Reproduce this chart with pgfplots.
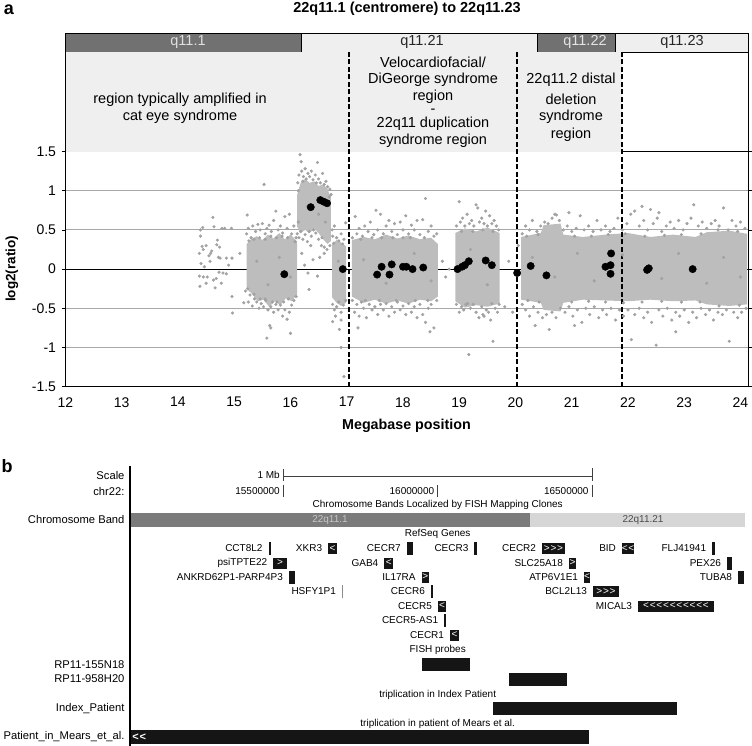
\documentclass[border=0pt]{standalone}
\usepackage{pgfplots}
\pgfplotsset{compat=1.18}
\usepackage{fontspec}
\setmainfont{Liberation Sans}
\definecolor{dotgray}{HTML}{A2A2A2}
\definecolor{coregray}{HTML}{BDBDBD}
\definecolor{banddark}{HTML}{717171}
\definecolor{bandlight}{HTML}{EFEFEF}
\definecolor{regfill}{HTML}{EFEFEF}
\definecolor{gridgray}{HTML}{A8A8A8}
\definecolor{gblack}{HTML}{151515}
\definecolor{bdark}{HTML}{7B7B7B}
\definecolor{blight}{HTML}{D6D6D6}
\newcommand{\fsz}[1]{\fontsize{#1}{#1}\selectfont}
\newcommand{\Lt}{<\kern0.8pt}
\newcommand{\Gt}{>\kern0.8pt}
% gene box: x1 x2 ytop ybot
\newcommand{\gb}[4]{\addplot[fill=gblack,draw=none] coordinates {(#1,#3)(#2,#3)(#2,#4)(#1,#4)};}
\newcommand{\rect}[5]{\addplot[fill=#5,draw=black,line width=1pt] coordinates {(#1,#3)(#2,#3)(#2,#4)(#1,#4)(#1,#3)};}
\begin{document}
\begin{tikzpicture}
\useasboundingbox (0pt,0pt) rectangle (752pt,-746pt);
% ---------------- panel a ----------------
\begin{axis}[
  at={(65.5pt,-386.7pt)}, anchor=south west,
  scale only axis, width=683.4pt, height=235.2pt,
  xmin=12, xmax=24.15, ymin=-1.5, ymax=1.5,
  xtick={12,13,...,24},
  ytick={-1.5,-1,-0.5,0,0.5,1,1.5},
  yticklabels={-1.5,-1,-0.5,0,0.5,1,1.5},
  clip=false,
  axis line style={black,line width=1.1pt},
  ymajorgrids, major grid style={gridgray,line width=1pt},
  xtick style={draw=none},
  ytick style={black,line width=0.8pt},
  tick align=outside, major tick length=4pt,
  ticklabel style={font=\fontsize{14}{16}\selectfont},
  /pgf/number format/assume math mode=true,
  xticklabel style={yshift=-3pt},
  yticklabel style={xshift=-2pt},
]
% band bar
\rect{12}{16.19}{3.008}{2.765}{banddark}
\rect{16.19}{20.40}{3.008}{2.765}{bandlight}
\rect{20.40}{21.77}{3.008}{2.765}{banddark}
\rect{21.77}{24.15}{3.008}{2.765}{bandlight}
% region boxes
\addplot[fill=regfill,draw=none] coordinates {(12,2.765)(21.90,2.765)(21.90,1.5)(12,1.5)};
\addplot[black,line width=1.1pt] coordinates {(12,1.5)(12,2.765)};
\addplot[black,line width=1.1pt] coordinates {(24.15,1.5)(24.15,2.765)};
% zero line
\addplot[black,line width=0.8pt] coordinates {(12,0)(24.15,0)};
% dense cores of the probe clouds
\addplot[fill=coregray,draw=none] coordinates {(15.22,0.32)(15.30,0.38)(15.40,0.42)(15.50,0.37)(15.60,0.44)(15.70,0.39)(15.80,0.46)(15.90,0.38)(16.00,0.44)(16.12,0.35)(16.12,-0.32)(16.02,-0.41)(15.92,-0.37)(15.82,-0.46)(15.72,-0.41)(15.62,-0.48)(15.52,-0.39)(15.42,-0.41)(15.32,-0.32)(15.22,-0.25)};
\addplot[fill=coregray,draw=none] coordinates {(16.12,0.95)(16.18,1.10)(16.26,1.15)(16.34,1.10)(16.42,1.12)(16.50,1.06)(16.58,1.08)(16.66,1.02)(16.72,0.90)(16.72,0.36)(16.66,0.32)(16.58,0.38)(16.50,0.46)(16.42,0.52)(16.34,0.46)(16.26,0.50)(16.18,0.46)(16.12,0.54)};
\addplot[fill=coregray,draw=none] coordinates {(16.74,0.32)(16.82,0.37)(16.90,0.34)(16.99,0.29)(16.99,-0.43)(16.90,-0.47)(16.82,-0.43)(16.74,-0.36)};
\addplot[fill=coregray,draw=none] coordinates {(17.09,0.37)(17.3,0.41)(17.5,0.38)(17.7,0.44)(17.9,0.39)(18.1,0.43)(18.3,0.38)(18.5,0.40)(18.62,0.32)(18.62,-0.35)(18.5,-0.41)(18.3,-0.39)(18.1,-0.44)(17.9,-0.40)(17.7,-0.44)(17.5,-0.39)(17.3,-0.43)(17.09,-0.35)};
\addplot[fill=coregray,draw=none] coordinates {(18.93,0.46)(19.1,0.52)(19.3,0.48)(19.5,0.53)(19.72,0.46)(19.72,-0.44)(19.5,-0.48)(19.3,-0.46)(19.1,-0.49)(18.93,-0.41)};
\addplot[fill=coregray,draw=none] coordinates {(20.10,0.41)(20.45,0.46)(20.50,0.56)(20.80,0.58)(20.85,0.44)(21.2,0.41)(21.6,0.44)(22.0,0.46)(22.4,0.41)(22.8,0.44)(23.2,0.41)(23.4,0.47)(23.8,0.49)(24.12,0.45)(24.12,-0.45)(23.8,-0.47)(23.4,-0.45)(23.2,-0.40)(22.8,-0.41)(22.4,-0.39)(22.0,-0.41)(21.6,-0.40)(21.2,-0.39)(20.85,-0.43)(20.80,-0.54)(20.50,-0.52)(20.45,-0.43)(20.10,-0.39)};
% individual probes (gray)
\addplot[only marks,mark=*,mark size=1.4pt,color=dotgray] coordinates {
(14.40,0.50)(14.44,0.53)(14.40,0.42)(14.43,0.29)(14.38,0.20)(14.41,0.07)(14.38,-0.09)(14.39,-0.22)(14.45,-0.10)(14.47,0.03)(14.52,-0.10)(14.62,0.66)(14.64,0.54)(14.58,0.20)(14.63,-0.14)(14.66,-0.24)(14.70,0.37)(14.72,0.15)(14.75,0.14)(14.78,0.52)(14.80,-0.05)(14.77,-0.18)(14.83,0.52)(14.86,0.14)(14.86,-0.06)(14.95,0.52)(14.96,0.14)(14.96,-0.35)(14.97,-0.56)(14.60,0.23)(14.55,0.17)(14.57,0.10)(14.50,0.30)(14.68,-0.12)(14.73,-0.04)(14.74,0.28)(14.69,0.31)(14.45,0.25)(14.50,-0.18)(14.90,0.05)(15.17,-0.43)(15.10,0.20)
(15.22,0.45)(15.25,0.52)(15.30,0.40)(15.33,0.55)(15.38,0.48)(15.42,0.57)(15.46,0.50)(15.50,0.58)(15.55,0.45)(15.58,0.52)(15.62,0.56)(15.66,0.48)(15.70,0.62)(15.74,0.74)(15.78,0.50)(15.82,0.55)(15.86,0.46)(15.90,0.67)(15.94,0.52)(15.98,0.70)(16.02,0.45)(16.06,0.55)(16.10,0.40)(15.23,0.69)(15.53,1.08)(15.45,0.40)(15.85,0.42)(15.65,0.42)(15.35,0.38)(15.26,0.36)(15.55,0.38)(15.75,0.40)(15.95,0.40)(16.08,0.35)
(15.20,-0.28)(15.25,-0.42)(15.28,-0.33)(15.32,-0.47)(15.36,-0.38)(15.40,-0.42)(15.44,-0.50)(15.48,-0.44)(15.52,-0.48)(15.56,-0.40)(15.60,-0.52)(15.65,-0.48)(15.70,-0.55)(15.74,-0.45)(15.78,-0.52)(15.82,-0.46)(15.86,-0.60)(15.90,-0.52)(15.94,-0.64)(15.98,-0.55)(16.02,-0.46)(16.06,-0.40)(16.10,-0.35)(15.58,-0.88)(15.65,-0.75)(15.63,-0.72)(16.00,-0.82)(15.88,-0.42)(15.76,-0.42)(15.46,-0.38)(15.35,-0.32)(15.55,-0.38)(15.68,-0.42)(15.96,-0.38)(15.24,-0.25)
(16.13,1.10)(16.15,1.20)(16.17,1.46)(16.19,1.37)(16.20,1.25)(16.23,1.18)(16.26,1.28)(16.28,1.15)(16.31,1.22)(16.34,1.18)(16.37,1.25)(16.40,1.14)(16.44,1.20)(16.48,1.36)(16.50,1.15)(16.53,1.10)(16.57,1.22)(16.60,1.08)(16.63,1.12)(16.66,1.05)(16.70,1.02)(16.72,0.95)(16.14,1.00)(16.22,1.12)(16.46,1.10)(16.69,0.92)
(16.12,0.45)(16.15,0.40)(16.18,0.48)(16.22,0.38)(16.26,0.44)(16.30,0.35)(16.33,0.48)(16.37,0.42)(16.41,0.50)(16.45,0.46)(16.50,0.38)(16.55,0.30)(16.60,0.28)(16.65,0.25)(16.70,0.30)(16.33,-0.26)(16.48,-0.09)(16.31,-0.05)(16.20,0.20)(16.40,0.12)(16.25,0.05)(16.52,0.15)(16.14,0.60)(16.60,0.20)(16.36,0.30)(16.56,0.40)(16.74,0.50)
(16.75,0.42)(16.78,0.55)(16.82,0.40)(16.86,0.36)(16.90,0.45)(16.95,0.38)(16.98,0.59)(16.75,-0.45)(16.78,-0.52)(16.82,-0.48)(16.86,-0.42)(16.90,-0.55)(16.94,-0.46)(16.98,-0.40)(16.75,-0.67)(16.90,-0.65)(16.87,-0.77)(16.90,-1.00)(16.95,-1.37)(16.80,-0.60)(16.77,0.33)(16.93,0.32)
(17.10,0.40)(17.15,0.67)(17.18,0.45)(17.22,0.52)(17.28,0.42)(17.32,0.55)(17.38,0.48)(17.42,0.60)(17.48,0.44)(17.52,0.75)(17.55,0.50)(17.60,0.70)(17.65,0.45)(17.70,0.55)(17.75,0.62)(17.80,0.48)(17.85,0.58)(17.90,0.44)(17.95,0.60)(18.00,0.50)(18.05,0.68)(18.10,0.45)(18.15,0.56)(18.20,0.50)(18.25,0.62)(18.30,0.44)(18.35,0.63)(18.40,0.90)(18.45,0.48)(18.50,0.55)(18.55,0.42)(18.60,0.45)(17.45,0.40)(18.13,0.40)(17.25,0.38)(17.62,0.40)(17.82,0.40)(18.00,0.40)(18.38,0.40)
(17.10,-0.40)(17.14,-0.55)(17.18,-0.45)(17.22,-0.60)(17.26,-0.42)(17.30,-0.50)(17.35,-0.62)(17.40,-0.45)(17.45,-0.52)(17.50,-0.48)(17.55,-0.58)(17.60,-0.45)(17.65,-0.52)(17.70,-0.44)(17.75,-0.60)(17.80,-0.48)(17.85,-0.55)(17.90,-0.42)(17.95,-0.52)(18.00,-0.47)(18.05,-0.58)(18.10,-0.44)(18.15,-0.55)(18.20,-0.48)(18.25,-0.62)(18.30,-0.45)(18.35,-0.58)(18.40,-0.68)(18.45,-0.50)(18.50,-0.45)(18.55,-0.75)(18.60,-0.40)(17.20,-0.75)(18.48,-0.80)(17.33,-0.40)(17.58,-0.40)(17.88,-0.40)(18.22,-0.40)(18.44,-0.40)
(18.76,-0.10)(18.70,0.10)(18.82,0.00)
(18.95,0.55)(19.00,0.86)(19.02,0.60)(19.06,0.65)(19.10,0.55)(19.14,0.70)(19.18,0.58)(19.22,0.62)(19.26,0.55)(19.30,0.82)(19.33,0.78)(19.36,0.60)(19.40,0.65)(19.44,0.58)(19.47,0.74)(19.50,0.55)(19.54,0.68)(19.58,0.58)(19.62,0.62)(19.66,0.55)(19.70,0.50)(19.04,0.48)(19.24,0.48)(19.42,0.50)(19.60,0.48)
(18.95,-0.45)(19.00,-0.55)(19.04,-0.48)(19.08,-0.52)(19.12,-0.45)(19.17,-1.09)(19.20,-0.50)(19.25,-0.45)(19.30,-0.55)(19.35,-0.62)(19.40,-0.48)(19.44,-0.60)(19.48,-0.52)(19.52,-0.55)(19.56,-0.65)(19.60,-0.92)(19.64,-0.50)(19.68,-0.55)(19.71,-0.45)(19.42,-0.58)(19.15,-0.44)(19.58,-0.44)
(19.81,-0.48)(19.88,0.10)(19.95,-0.55)(20.05,0.30)
(20.12,0.45)(20.18,0.55)(20.25,0.50)(20.30,0.62)(20.38,0.48)(20.45,0.55)(20.52,0.60)(20.58,0.58)(20.65,0.65)(20.70,0.70)(20.73,0.69)(20.78,0.62)(20.85,0.50)(20.92,0.55)(21.00,0.48)(21.08,0.52)(21.15,0.68)(21.22,0.50)(21.30,0.55)(21.38,0.48)(21.45,0.62)(21.52,0.50)(21.60,0.55)(21.68,0.48)(21.75,0.52)(21.82,0.65)(21.90,0.50)(21.98,0.58)(22.05,0.70)(22.12,0.74)(22.20,0.55)(22.28,0.62)(22.35,0.50)(22.40,0.76)(22.45,0.58)(22.52,0.65)(22.60,0.48)(22.68,0.55)(22.75,0.60)(22.82,0.52)(22.90,0.62)(22.98,0.50)(23.05,0.58)(23.12,0.65)(23.17,0.82)(23.25,0.55)(23.32,0.60)(23.40,0.52)(23.48,0.58)(23.55,0.62)(23.62,0.55)(23.70,0.78)(23.78,0.50)(23.85,0.62)(23.92,0.55)(24.00,0.60)(24.08,0.52)(22.25,0.80)(22.55,0.72)(20.95,0.72)
(20.20,0.42)(20.40,0.44)(21.05,0.42)(21.35,0.42)(21.65,0.44)(21.95,0.45)(22.30,0.42)(22.65,0.43)(22.95,0.44)(23.30,0.45)(23.60,0.50)(23.95,0.48)
(20.12,-0.45)(20.18,-0.52)(20.25,-0.60)(20.32,-0.48)(20.40,-0.55)(20.48,-0.62)(20.55,-0.58)(20.60,-0.77)(20.65,-0.55)(20.72,-0.62)(20.80,-0.50)(20.88,-0.55)(20.95,-0.48)(21.02,-0.60)(21.10,-0.52)(21.18,-0.68)(21.25,-0.50)(21.32,-0.58)(21.40,-0.48)(21.48,-0.62)(21.55,-0.52)(21.62,-0.58)(21.70,-0.50)(21.78,-0.65)(21.85,-0.52)(21.92,-0.60)(22.00,-0.52)(22.06,-0.90)(22.12,-0.58)(22.20,-0.50)(22.28,-0.62)(22.35,-0.55)(22.42,-0.68)(22.50,-0.97)(22.55,-0.52)(22.62,-0.60)(22.70,-0.50)(22.78,-0.65)(22.85,-0.55)(22.92,-0.60)(23.00,-0.52)(23.08,-0.68)(23.15,-0.55)(23.22,-0.62)(23.30,-0.50)(23.38,-0.58)(23.45,-0.52)(23.52,-0.65)(23.60,-0.55)(23.68,-0.58)(23.75,-0.52)(23.80,-0.92)(23.88,-0.55)(23.95,-0.62)(24.02,-0.55)(24.10,-0.50)(20.35,-0.72)(21.05,-0.72)(22.85,-0.80)
(20.22,-0.40)(20.42,-0.42)(21.00,-0.42)(21.30,-0.41)(21.60,-0.42)(21.92,-0.43)(22.25,-0.42)(22.60,-0.41)(22.95,-0.42)(23.28,-0.42)(23.62,-0.47)(23.98,-0.46)
(15.40,0.10)(15.60,-0.20)(15.80,0.15)(16.00,-0.10)(16.30,0.80)(16.50,0.70)(16.62,0.60)(16.85,0.10)(17.30,0.12)(17.70,-0.18)(18.20,0.20)(18.50,-0.15)(19.20,0.25)(19.50,-0.20)(20.30,0.15)(20.70,-0.10)(21.10,0.20)(21.40,-0.15)(21.90,0.18)(22.60,-0.12)(22.90,0.20)(23.40,-0.18)(23.70,0.15)(24.00,-0.10)
};
% region boundaries (dashed)
\addplot[black,line width=2pt,dash pattern=on 5pt off 2.5pt] coordinates {(17.04,-1.5)(17.04,2.765)};
\addplot[black,line width=2pt,dash pattern=on 5pt off 2.5pt] coordinates {(20.02,-1.5)(20.02,2.765)};
\addplot[black,line width=2pt,dash pattern=on 5pt off 2.5pt] coordinates {(21.90,-1.5)(21.90,2.765)};
% FISH-validated / segment points (black)
\addplot[only marks,mark=*,mark size=3.7pt,color=black] coordinates {
(15.89,-0.065)(16.36,0.79)(16.53,0.88)(16.65,0.84)(16.59,0.86)(16.93,0.0)
(17.54,-0.07)(17.62,0.03)(17.76,-0.07)(17.80,0.06)(18.00,0.03)(18.06,0.03)(18.17,0.0)(18.36,0.02)
(18.97,0.0)(19.05,0.03)(19.10,0.05)(19.17,0.10)(19.47,0.11)(19.58,0.05)
(20.03,-0.05)(20.27,0.04)(20.55,-0.08)
(21.60,0.03)(21.70,0.20)(21.69,0.05)(21.69,-0.06)(22.34,-0.01)(22.37,0.01)(23.15,0.0)
};
\end{axis}
% text of panel a
\node[font=\bfseries\fsz{18},inner sep=0pt] at (9pt,-10pt) {a};
\node[font=\bfseries\fontsize{14.5}{17}\selectfont] at (407pt,-9pt) {22q11.1 (centromere) to 22q11.23};
\begin{scope}[every node/.style={font=\fontsize{14.5}{17}\selectfont,inner sep=0.5pt}]
\node[text=black!12] at (188pt,-42pt) {q11.1};
\node[text=black!85] at (422pt,-42pt) {q11.21};
\node[text=black!10] at (585pt,-42pt) {q11.22};
\node[text=black!85] at (682pt,-42pt) {q11.23};
\node at (180pt,-100pt) {region typically amplified in};
\node at (180pt,-117pt) {cat eye syndrome};
\node at (433pt,-62pt) {Velocardiofacial/};
\node at (433pt,-80pt) {DiGeorge syndrome};
\node at (433pt,-96.5pt) {region};
\node[inner sep=0pt] at (433pt,-111.5pt) {-};
\node at (433pt,-124pt) {22q11 duplication};
\node at (433pt,-141pt) {syndrome region};
\node at (571pt,-80pt) {22q11.2 distal};
\node at (571pt,-99pt) {deletion};
\node at (571pt,-117pt) {syndrome};
\node at (571pt,-135pt) {region};
\end{scope}
\node[font=\bfseries\fontsize{14.3}{17}\selectfont] at (406.5pt,-426pt) {Megabase position};
\node[font=\bfseries\fontsize{13.5}{16}\selectfont,rotate=90] at (12pt,-269pt) {log2(ratio)};
% ---------------- panel b ----------------
\begin{axis}[
  at={(129pt,-746pt)}, anchor=south west,
  scale only axis, width=617.4pt, height=284pt,
  xmin=15, xmax=17, ymin=-746, ymax=-462,
  hide axis, clip=false,
  every node/.style={font=\fontsize{11.2}{13}\selectfont},
]
% left rule
\addplot[black,line width=1.8pt] coordinates {(15.0034,-466)(15.0034,-746)};
% scale bar and position ticks
\addplot[black!75,line width=0.7pt] coordinates {(15.5,-476)(16.5,-476)};
\addplot[black!75,line width=0.7pt] coordinates {(15.5,-469)(15.5,-481)};
\addplot[black!75,line width=0.7pt] coordinates {(16.5,-468)(16.5,-481)};
\addplot[black!75,line width=0.7pt] coordinates {(15.5,-485)(15.5,-497)};
\addplot[black!75,line width=0.7pt] coordinates {(16.0,-485)(16.0,-497)};
\addplot[black!75,line width=0.7pt] coordinates {(16.5,-485)(16.5,-497)};
\node[anchor=east] at (axis cs:15.5,-475) {1 Mb};
\node[anchor=east] at (axis cs:15.5,-491) {15500000};
\node[anchor=east] at (axis cs:16.0,-491) {16000000};
\node[anchor=east] at (axis cs:16.5,-491) {16500000};
% chromosome bands
\node at (axis cs:16.0,-505) {Chromosome Bands Localized by FISH Mapping Clones};
\addplot[fill=bdark,draw=none] coordinates {(15.006,-512.7)(16.299,-512.7)(16.299,-526.7)(15.006,-526.7)};
\addplot[fill=blight,draw=none] coordinates {(16.299,-512.7)(16.996,-512.7)(16.996,-526.7)(16.299,-526.7)};
\node[text=black!22] at (axis cs:15.651,-519.7) {22q11.1};
\node[text=black!70] at (axis cs:16.665,-519.7) {22q11.21};
% RefSeq genes
\node at (axis cs:16.0,-533.5) {RefSeq Genes};
% row 1
\gb{15.452}{15.459}{-542}{-555}
\gb{15.645}{15.674}{-543}{-554}
\gb{15.900}{15.919}{-542}{-555}
\gb{16.119}{16.127}{-542}{-555}
\gb{16.338}{16.412}{-543}{-554}
\gb{16.597}{16.636}{-543}{-554}
\gb{16.889}{16.898}{-542}{-555}
% row 2
\gb{15.467}{15.512}{-557.5}{-568.5}
\gb{15.827}{15.856}{-557.5}{-568.5}
\gb{16.425}{16.448}{-557.5}{-568.5}
\gb{16.937}{16.953}{-556.5}{-569.5}
% row 3
\gb{15.518}{15.538}{-570.5}{-583.5}
\gb{15.948}{15.972}{-571.5}{-582.5}
\gb{16.474}{16.494}{-571.5}{-582.5}
\gb{16.973}{16.992}{-570.5}{-583.5}
% row 4
\addplot[black!45,line width=0.8pt] coordinates {(15.690,-585)(15.690,-598)};
\gb{15.978}{15.985}{-585}{-598}
\gb{16.503}{16.587}{-586}{-597}
% row 5
\gb{16.001}{16.027}{-600.5}{-611.5}
\gb{16.649}{16.895}{-600.5}{-611.5}
% row 6
\gb{16.021}{16.027}{-614}{-627}
% row 7
\gb{16.040}{16.069}{-629.5}{-640.5}
% gene names
\begin{scope}[every node/.append style={anchor=east,xshift=-2.5pt}]
\node at (axis cs:15.452,-548.5) {CCT8L2};
\node at (axis cs:15.645,-548.5) {XKR3};
\node at (axis cs:15.900,-548.5) {CECR7};
\node at (axis cs:16.119,-548.5) {CECR3};
\node at (axis cs:16.338,-548.5) {CECR2};
\node at (axis cs:16.597,-548.5) {BID};
\node at (axis cs:16.889,-548.5) {FLJ41941};
\node at (axis cs:15.467,-563) {psiTPTE22};
\node at (axis cs:15.827,-563) {GAB4};
\node at (axis cs:16.425,-563) {SLC25A18};
\node at (axis cs:16.937,-563) {PEX26};
\node at (axis cs:15.518,-577) {ANKRD62P1-PARP4P3};
\node at (axis cs:15.948,-577) {IL17RA};
\node at (axis cs:16.474,-577) {ATP6V1E1};
\node at (axis cs:16.973,-577) {TUBA8};
\node at (axis cs:15.690,-591.5) {HSFY1P1};
\node at (axis cs:15.978,-591.5) {CECR6};
\node at (axis cs:16.503,-591.5) {BCL2L13};
\node at (axis cs:16.001,-606) {CECR5};
\node at (axis cs:16.649,-606) {MICAL3};
\node at (axis cs:16.021,-620.5) {CECR5-AS1};
\node at (axis cs:16.040,-635) {CECR1};
\end{scope}
% strand chevrons
\begin{scope}[every node/.append style={text=white,font=\fontsize{10}{10}\selectfont,inner sep=0pt}]
\node at (axis cs:15.6595,-548.5) {<};
\node at (axis cs:16.375,-548.5) {\Gt\Gt>};
\node at (axis cs:16.6165,-548.5) {\Lt<};
\node at (axis cs:15.4895,-563) {>};
\node at (axis cs:15.8415,-563) {<};
\node at (axis cs:16.4365,-563) {>};
\node at (axis cs:15.960,-577) {>};
\node at (axis cs:16.484,-577) {<};
\node at (axis cs:16.545,-591.5) {\Gt\Gt>};
\node at (axis cs:16.014,-606) {<};
\node at (axis cs:16.772,-606) {\Lt\Lt\Lt\Lt\Lt\Lt\Lt\Lt\Lt<};
\node at (axis cs:16.0545,-635) {<};
\end{scope}
% FISH probes
\node at (axis cs:16.0,-650) {FISH probes};
\gb{15.949}{16.105}{-658}{-671}
\gb{16.231}{16.419}{-673}{-686}
% patients
\node at (axis cs:16.0,-695) {triplication in Index Patient};
\gb{16.179}{16.775}{-702}{-715}
\node at (axis cs:16.0,-723.5) {triplication in patient of Mears et al.};
\gb{15.007}{16.490}{-730}{-744}
\node[text=white,font=\bfseries\fontsize{11}{11}\selectfont,anchor=west,inner sep=0pt] at (axis cs:15.010,-737) {\Lt<};
\end{axis}
% left labels of panel b
\node[font=\bfseries\fsz{18},inner sep=0pt] at (7pt,-466pt) {b};
\begin{scope}[every node/.style={font=\fontsize{11.2}{13}\selectfont,anchor=east}]
\node at (128pt,-475pt) {Scale};
\node at (128pt,-491pt) {chr22:};
\node at (128pt,-519.5pt) {Chromosome Band};
\node at (128pt,-665pt) {RP11-155N18};
\node at (128pt,-679pt) {RP11-958H20};
\node at (128pt,-708.5pt) {Index\_Patient};
\node at (128pt,-737pt) {Patient\_in\_Mears\_et\_al.};
\end{scope}
\end{tikzpicture}
\end{document}
